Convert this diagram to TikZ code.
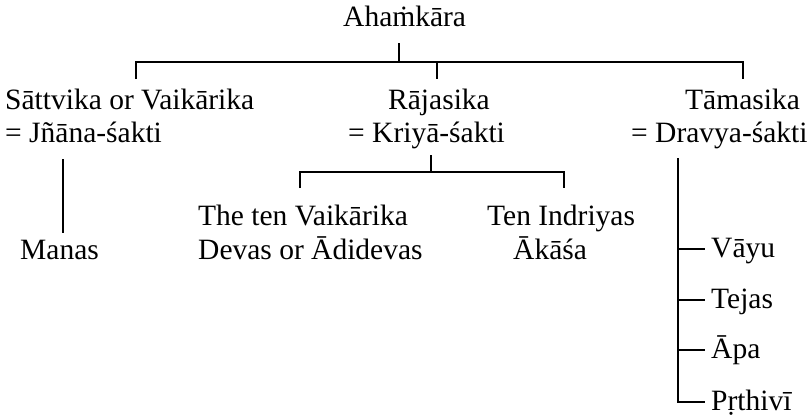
\documentclass[tikz,border=0pt]{standalone}
\usepackage{fontspec}
\setmainfont{Liberation Serif}
\begin{document}
\begin{tikzpicture}[x=1pt,y=-1pt,
  lbl/.style={anchor=base west, inner sep=0pt, font=\fontsize{29.5}{35}\selectfont},
  conn/.style={line width=1.9pt}]
\useasboundingbox (0,0) rectangle (807,415);
% texts
\node[lbl] (ahk) at (343,27) {Ahaṁkāra};
\node[lbl] (sat1) at (5,109) {Sāttvika or Vaikārika};
\node[lbl] (sat2) at (5,142) {= Jñāna-śakti};
\node[lbl] (raj1) at (388,109) {Rājasika};
\node[lbl] (raj2) at (348,142) {= Kriyā-śakti};
\node[lbl] (tam1) at (685,109) {Tāmasika};
\node[lbl] (tam2) at (631,142) {= Dravya-śakti};
\node[lbl] (manas) at (20,259) {Manas};
\node[lbl] (vai1) at (198,225) {The ten Vaikārika};
\node[lbl] (vai2) at (198,259) {Devas or Ādidevas};
\node[lbl] (ind1) at (487,225) {Ten Indriyas};
\node[lbl] (ind2) at (513,259) {Ākāśa};
\node[lbl] (vayu) at (711,257) {Vāyu};
\node[lbl] (tejas) at (711,308) {Tejas};
\node[lbl] (apa) at (711,358) {Āpa};
\node[lbl] (prth) at (711,410) {Pṛthivī};
% junction coordinates
\coordinate (a0) at (399,43);
\coordinate (a1) at (399,62);
\coordinate (bl) at (136,62);  \coordinate (blt) at (136,79);
\coordinate (bm) at (437,62);  \coordinate (bmt) at (437,79);
\coordinate (br) at (743,62);  \coordinate (brt) at (743,79);
\coordinate (s0) at (63,159);  \coordinate (s1) at (63,233);
\coordinate (r0) at (431,155); \coordinate (r1) at (431,172);
\coordinate (rl) at (300,172); \coordinate (rlt) at (300,188);
\coordinate (rr) at (564,172); \coordinate (rrt) at (564,188);
\coordinate (t0) at (678,158); \coordinate (t4) at (678,403);
\coordinate (v0) at (678,249); \coordinate (v1) at (705,249);
\coordinate (e0) at (678,300); \coordinate (e1) at (705,300);
\coordinate (p0) at (678,350); \coordinate (p1) at (705,350);
\coordinate (q0) at (678,402); \coordinate (q1) at (705,402);
% connectors
\draw[conn] (a0) -- (a1);
\draw[conn] (blt) -- (bl) -- (br) -- (brt);
\draw[conn] (bm) -- (bmt);
\draw[conn] (s0) -- (s1);
\draw[conn] (r0) -- (r1);
\draw[conn] (rlt) -- (rl) -- (rr) -- (rrt);
\draw[conn] (t0) -- (t4);
\draw[conn] (v0) -- (v1);
\draw[conn] (e0) -- (e1);
\draw[conn] (p0) -- (p1);
\draw[conn] (q0) -- (q1);
\end{tikzpicture}
\end{document}
